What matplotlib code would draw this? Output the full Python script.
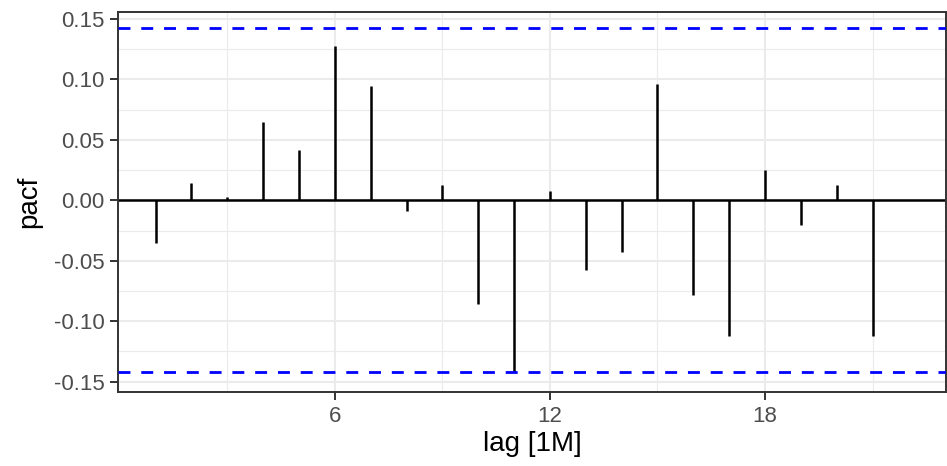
import numpy as np
import matplotlib
matplotlib.use("Agg")
import matplotlib.pyplot as plt
from matplotlib.ticker import FixedLocator, FuncFormatter

plt.rcParams['font.family'] = ['Liberation Sans', 'DejaVu Sans']

# partial autocorrelation by lag (months)
lags = np.arange(1, 22)
pacf = [-0.035, 0.014, 0.003, 0.065, 0.042, 0.128, 0.095, -0.009, 0.013, -0.086,
        -0.142, 0.008, -0.058, -0.043, 0.096, -0.078, -0.112, 0.025, -0.020, 0.013,
        -0.112]
ci = 0.1422

x_ticks = [6, 12, 18]
x_minor = [3, 9, 15, 21]
y_ticks = [-0.15, -0.10, -0.05, 0.00, 0.05, 0.10, 0.15]
y_minor = [-0.125, -0.075, -0.025, 0.025, 0.075, 0.125]

fig = plt.figure(figsize=(9.47, 4.66), dpi=100)
ax = fig.add_axes([0.1246, 0.1588, 0.8744, 0.8154])

ax.set_xlim(-0.05, 23.05)
ax.set_ylim(-0.1585, 0.1558)

ax.xaxis.set_major_locator(FixedLocator(x_ticks))
ax.xaxis.set_minor_locator(FixedLocator(x_minor))
ax.yaxis.set_major_locator(FixedLocator(y_ticks))
ax.yaxis.set_minor_locator(FixedLocator(y_minor))
ax.yaxis.set_major_formatter(FuncFormatter(lambda v, p: f"{v:.2f}"))

ax.grid(True, which='major', color='#EBEBEB', linewidth=1.5, zorder=0)
ax.grid(True, which='minor', color='#EBEBEB', linewidth=0.8, zorder=0)
ax.set_axisbelow(True)

ax.axhline(0, color='black', linewidth=1.8, zorder=2)
ax.vlines(lags, 0, pacf, color='black', linewidth=1.8, zorder=3)
for c in (ci, -ci):
    ax.axhline(c, color='#0000FF', linewidth=2.0, linestyle=(0, (4.3, 3.9)), zorder=4)

for s in ax.spines.values():
    s.set_color('#333333')
    s.set_linewidth(1.4)

ax.tick_params(which='major', length=5.8, width=1.4, color='#333333',
               labelsize=16, labelcolor='#4D4D4D', pad=4)
ax.tick_params(which='minor', length=0)

ax.set_xlabel('lag [1M]', fontsize=20, labelpad=3)
ax.set_ylabel('pacf', fontsize=20, labelpad=8)

fig.savefig('out.png', dpi=100)
